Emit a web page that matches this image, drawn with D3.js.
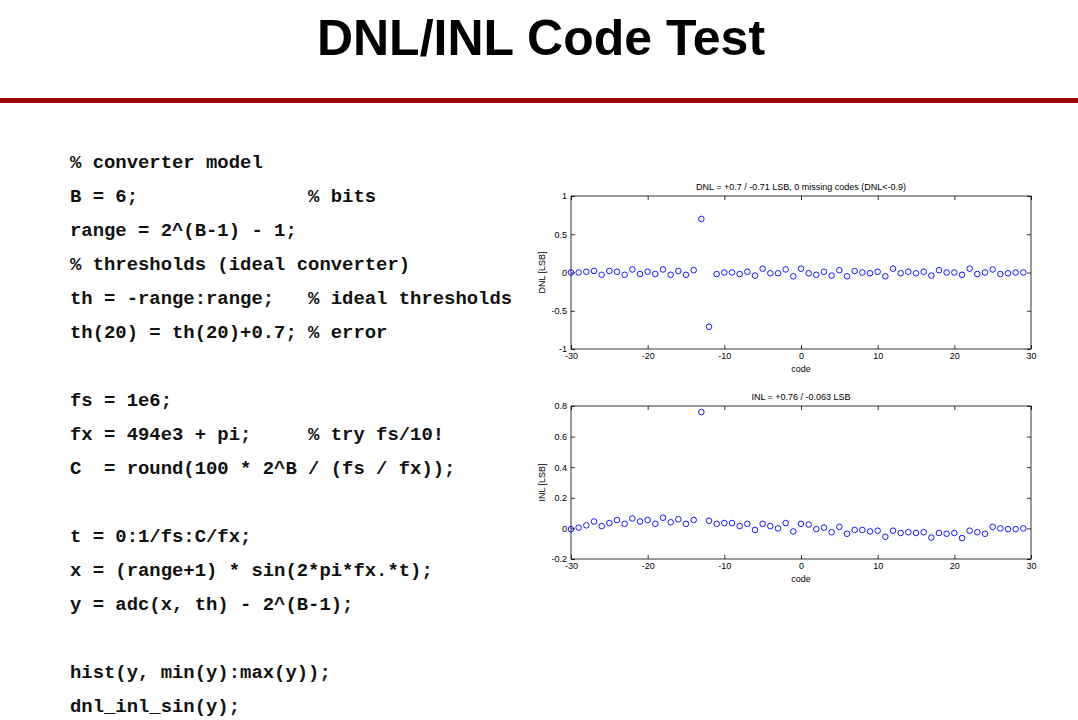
<!DOCTYPE html><html><head><meta charset="utf-8"><script src="https://cdn.jsdelivr.net/npm/d3@7"></script>
<style>body{margin:0;background:#fff}</style></head><body><svg id="s" width="1078" height="720"></svg><script>
const codes = d3.range(-30, 30);
const dnl = [0,0,0.01,0.02,-0.03,0.02,0.01,-0.03,0.04,-0.02,0.01,-0.02,0.04,-0.03,0.02,-0.03,0.03,0.7,-0.71,-0.02,0,0,-0.02,0.01,-0.04,0.05,-0.01,-0.01,0.04,-0.05,0.05,-0.01,-0.03,0.01,-0.04,0.03,-0.05,0.02,0,-0.01,0.01,-0.05,0.05,-0.01,0.01,-0.01,0.01,-0.04,0.03,0,0,-0.03,0.05,-0.02,0,0.04,-0.02,-0.01,0,0];
const inl = [-0.005,0.005,0.02,0.045,0.015,0.035,0.055,0.03,0.065,0.045,0.055,0.03,0.07,0.04,0.06,0.03,0.055,0.76,0.05,0.03,0.035,0.035,0.015,0.03,-0.01,0.03,0.015,0,0.035,-0.02,0.03,0.025,-0.005,0.005,-0.025,0.01,-0.035,-0.01,-0.01,-0.02,-0.015,-0.055,-0.015,-0.03,-0.025,-0.03,-0.025,-0.06,-0.03,-0.035,-0.03,-0.063,-0.015,-0.025,-0.035,0.01,0,-0.005,-0.005,0];
const xTicks = [-30,-20,-10,0,10,20,30];
const dnlTicks = [-1,-0.5,0,0.5,1];
const inlTicks = [-0.2,0,0.2,0.4,0.6,0.8];
const codeLines = ["% converter model","B = 6;               % bits","range = 2^(B-1) - 1;","% thresholds (ideal converter)","th = -range:range;   % ideal thresholds","th(20) = th(20)+0.7; % error","","fs = 1e6;","fx = 494e3 + pi;     % try fs/10!","C  = round(100 * 2^B / (fs / fx));","","t = 0:1/fs:C/fx;","x = (range+1) * sin(2*pi*fx.*t);","y = adc(x, th) - 2^(B-1);","","hist(y, min(y):max(y));","dnl_inl_sin(y);"];

const svg = d3.select("#s");
svg.append("text").attr("x",541).attr("y",55).attr("text-anchor","middle").attr("font-family","Liberation Sans, Arial").attr("font-weight","bold").attr("font-size",50).text("DNL/INL Code Test");
svg.append("rect").attr("x",0).attr("y",98).attr("width",1078).attr("height",5).attr("fill","#a00000");
svg.append("g").selectAll("text").data(codeLines).join("text")
  .attr("x",70).attr("y",(d,i)=>168+i*34).attr("xml:space","preserve").style("white-space","pre")
  .attr("font-family","Courier New, Liberation Mono, monospace").attr("font-weight","bold").attr("font-size",18.9).attr("fill","#111").text(d=>d);

const fmt = d => d===0 ? "0" : String(+d.toFixed(1));
function plot(top,bottom,vals,yDom,yT,title,ylab){
  const x = d3.scaleLinear().domain([-30,30]).range([571,1031]);
  const y = d3.scaleLinear().domain(yDom).range([bottom,top]);
  const g = svg.append("g").attr("font-family","Liberation Sans, Arial").attr("font-size",9);
  g.append("rect").attr("x",571).attr("y",top).attr("width",460).attr("height",bottom-top).attr("fill","none").attr("stroke","#000").attr("stroke-width",0.8);
  const ax = g.append("g").attr("transform",`translate(0,${bottom})`).call(d3.axisBottom(x).tickValues(xTicks).tickSize(-4).tickPadding(4).tickFormat(fmt));
  const ax2 = g.append("g").attr("transform",`translate(0,${top})`).call(d3.axisTop(x).tickValues(xTicks).tickSize(-4).tickFormat(""));
  const ay = g.append("g").attr("transform",`translate(571,0)`).call(d3.axisLeft(y).tickValues(yT).tickSize(-4).tickPadding(4).tickFormat(fmt));
  const ay2 = g.append("g").attr("transform",`translate(1031,0)`).call(d3.axisRight(y).tickValues(yT).tickSize(-4).tickFormat(""));
  [ax,ax2,ay,ay2].forEach(a=>{a.select(".domain").remove();a.selectAll("line").attr("stroke","#000").attr("stroke-width",0.8);a.selectAll("text").attr("font-size",9).attr("fill","#000").attr("font-family","Liberation Sans, Arial");});
  g.selectAll("circle").data(vals).join("circle").attr("cx",(d,i)=>x(codes[i])).attr("cy",d=>y(d)).attr("r",2.8).attr("fill","none").attr("stroke","#0000ff").attr("stroke-width",0.9);
  g.append("text").attr("x",801).attr("y",top-6).attr("text-anchor","middle").text(title);
  g.append("text").attr("x",801).attr("y",bottom+23).attr("text-anchor","middle").text("code");
  g.append("text").attr("transform",`translate(545,${(top+bottom)/2}) rotate(-90)`).attr("text-anchor","middle").text(ylab);
}
plot(196,349,dnl,[-1,1],dnlTicks,"DNL = +0.7 / -0.71 LSB,  0 missing codes (DNL<-0.9)","DNL [LSB]");
plot(406,559,inl,[-0.2,0.8],inlTicks,"INL = +0.76 / -0.063 LSB","INL [LSB]");
</script></body></html>
